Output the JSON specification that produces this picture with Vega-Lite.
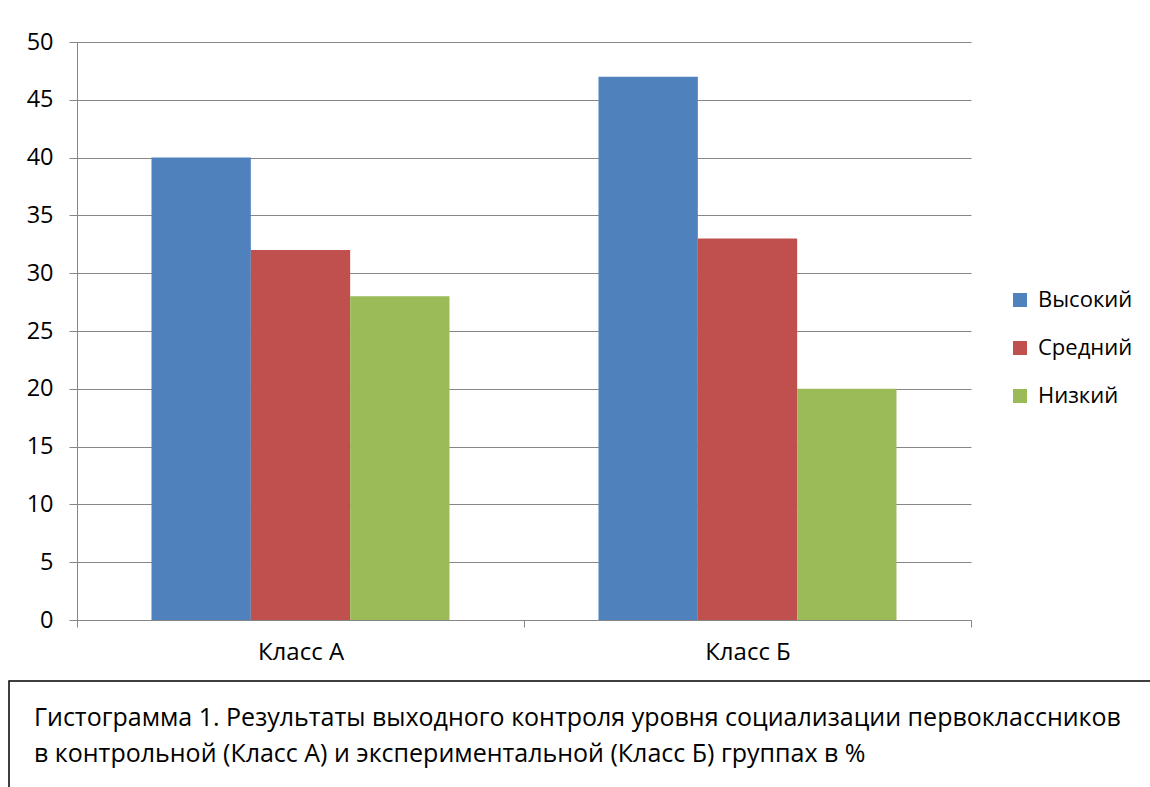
{
  "$schema": "https://vega.github.io/schema/vega-lite/v6.json",
  "padding": {"left": 8, "top": 30, "right": 0, "bottom": 0},
  "autosize": {"type": "pad"},
  "background": "white",
  "config": {"font": "Open Sans", "view": {"stroke": null}},
  "spacing": 16,
  "vconcat": [
    {
      "width": 962,
      "height": 578,
      "data": {
        "values": [
          {"class": "Класс А", "level": "Высокий", "value": 40},
          {"class": "Класс А", "level": "Средний", "value": 32},
          {"class": "Класс А", "level": "Низкий", "value": 28},
          {"class": "Класс Б", "level": "Высокий", "value": 47},
          {"class": "Класс Б", "level": "Средний", "value": 33},
          {"class": "Класс Б", "level": "Низкий", "value": 20}
        ]
      },
      "mark": {"type": "bar"},
      "encoding": {
        "x": {
          "field": "class",
          "type": "nominal",
          "sort": ["Класс А", "Класс Б"],
          "scale": {"paddingInner": 0, "paddingOuter": 0, "range": [68, 962]},
          "axis": {
            "title": null,
            "labelAngle": 0,
            "tickBand": "extent",
            "domainColor": "#868686",
            "tickColor": "#868686",
            "tickSize": 7,
            "labelFontSize": 24,
            "labelColor": "#000000",
            "labelPadding": 13
          }
        },
        "xOffset": {
          "field": "level",
          "sort": ["Высокий", "Средний", "Низкий"],
          "scale": {"paddingInner": 0, "paddingOuter": 0.75}
        },
        "y": {
          "field": "value",
          "type": "quantitative",
          "scale": {"domain": [0, 50]},
          "axis": {
            "title": null,
            "offset": -68,
            "values": [0, 5, 10, 15, 20, 25, 30, 35, 40, 45, 50],
            "grid": true,
            "gridColor": "#868686",
            "domainColor": "#868686",
            "tickColor": "#868686",
            "tickSize": 8,
            "labelFontSize": 23.5,
            "labelColor": "#000000",
            "labelPadding": 16
          }
        },
        "color": {
          "field": "level",
          "type": "nominal",
          "scale": {
            "domain": ["Высокий", "Средний", "Низкий"],
            "range": ["#4F81BD", "#C0504D", "#9BBB59"]
          },
          "legend": {
            "title": null,
            "orient": "none",
            "legendX": 1000,
            "legendY": 247,
            "padding": 0,
            "symbolType": "square",
            "symbolSize": 196,
            "symbolStrokeWidth": 0,
            "labelFontSize": 22,
            "labelColor": "#000000",
            "labelOffset": 7,
            "rowPadding": 26
          }
        }
      }
    },
    {
      "width": 1150,
      "height": 110,
      "view": {"stroke": "#000000", "strokeWidth": 1.5},
      "data": {
        "values": [
          {"line": 1, "text": "Гистограмма 1. Результаты выходного контроля уровня социализации первоклассников"},
          {"line": 2, "text": "в контрольной (Класс А) и экспериментальной (Класс Б) группах в %"}
        ]
      },
      "mark": {"type": "text", "align": "left", "baseline": "middle", "dx": 25, "fontSize": 25, "color": "#000000"},
      "encoding": {
        "x": {"value": 0},
        "y": {"field": "line", "type": "ordinal", "axis": null, "scale": {"padding": 1.03}},
        "text": {"field": "text"}
      }
    }
  ]
}
